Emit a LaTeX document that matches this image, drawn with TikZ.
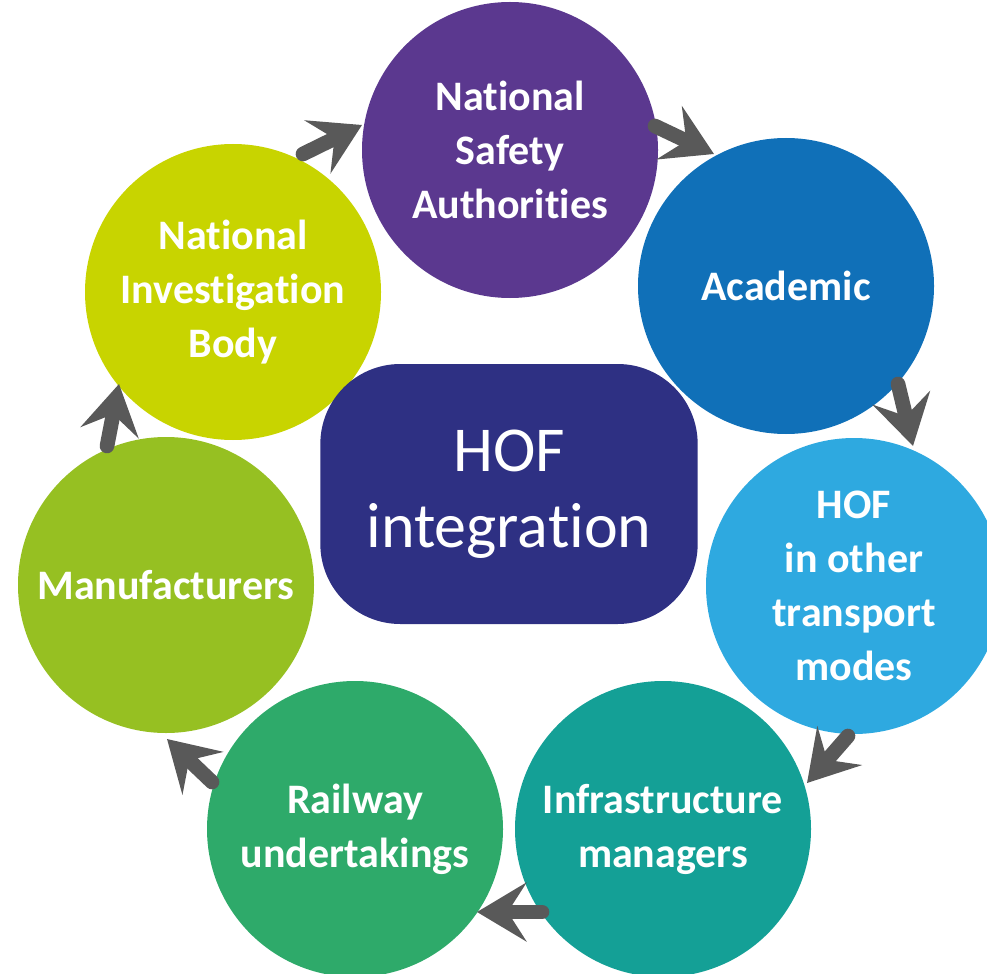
\documentclass[tikz,border=0pt]{standalone}
\usepackage{fontspec}
\setmainfont{Carlito}[Ligatures=NoCommon]
\usetikzlibrary{arrows.meta}

\definecolor{nsaPurple}{RGB}{91,56,143}
\definecolor{acadBlue}{RGB}{16,112,184}
\definecolor{hofBlue}{RGB}{46,169,224}
\definecolor{infraTeal}{RGB}{20,160,150}
\definecolor{railGreen}{RGB}{46,170,106}
\definecolor{manufGreen}{RGB}{150,192,34}
\definecolor{nibYellow}{RGB}{200,212,0}
\definecolor{hofNavy}{RGB}{46,48,131}
\definecolor{arrowGray}{RGB}{89,89,89}

\tikzset{every picture/.style={line width=0.75pt}}
\tikzset{
  partner/.style={circle, minimum size=222pt, inner sep=0pt, text=white,
    font=\fontsize{31.5}{40.5}\selectfont\bfseries, align=center},
  cyclearrow/.style={draw=arrowGray, line width=11pt, line cap=round,
    -{Stealth[length=37pt, width=44pt, inset=14pt, fill=arrowGray]}}
}

\begin{document}
\begin{tikzpicture}[x=0.75pt,y=0.75pt,yscale=-1,xscale=1]
\useasboundingbox (0,0) rectangle (987,973);
\clip (0,0) rectangle (987,973);

%Circles
\node [partner, fill=nsaPurple] (nsa) at (510,150) {National\\Safety\\Authorities};
\node [partner, fill=acadBlue] (acad) at (786,286) {Academic};
\node [partner, fill=hofBlue] (hof) at (854,586) {HOF\\in other\\transport\\modes};
\node [partner, fill=infraTeal] (infra) at (663,829) {Infrastructure\\managers};
\node [partner, fill=railGreen] (rail) at (355,829) {Railway\\undertakings};
\node [partner, fill=manufGreen] (manuf) at (166,585) {Manufacturers};
\node [partner, fill=nibYellow] (nib) at (233,292) {National\\Investigation\\Body};

%Centre box
\node [rectangle, rounded corners=60pt, fill=hofNavy, text=white, minimum width=283pt,
  minimum height=195pt, align=center, font=\fontsize{48}{57}\selectfont] (hofint) at (509,494) {HOF\\integration};

%Arrow ends
\coordinate (nibT) at (303,154);  \coordinate (nsaH) at (362,125);
\coordinate (nsaT) at (655,126);  \coordinate (acadH) at (714,154);
\coordinate (acadT) at (898,384); \coordinate (hofH) at (913,446);
\coordinate (hofT) at (848,736);  \coordinate (infraH) at (807,783);
\coordinate (infraT) at (542,912); \coordinate (railH) at (477,912);
\coordinate (railT) at (212,782); \coordinate (manufH) at (167,739);
\coordinate (manufT) at (107,446); \coordinate (nibH) at (119,384);

%Arrows
\draw [cyclearrow] (nibT) -- (nsaH);
\draw [cyclearrow] (nsaT) -- (acadH);
\draw [cyclearrow] (acadT) -- (hofH);
\draw [cyclearrow] (hofT) -- (infraH);
\draw [cyclearrow] (infraT) -- (railH);
\draw [cyclearrow] (railT) -- (manufH);
\draw [cyclearrow] (manufT) -- (nibH);

\end{tikzpicture}
\end{document}
